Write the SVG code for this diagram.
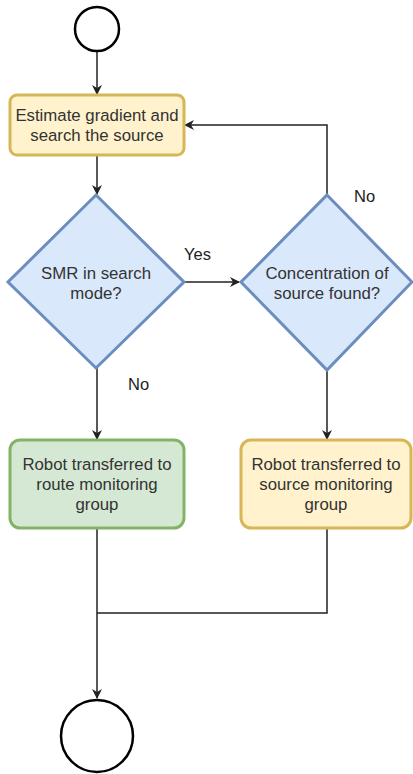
<svg xmlns="http://www.w3.org/2000/svg" width="413" height="774" viewBox="0 0 413 774">
<style>
.t{font-family:"Liberation Sans",Arial,sans-serif;font-size:16.8px;fill:#333;text-anchor:middle}
.l{font-family:"Liberation Sans",Arial,sans-serif;font-size:16.5px;fill:#222}
.c{fill:none;stroke:#222;stroke-width:1.5}
.y{fill:#fff2cc;stroke:#d6b656;stroke-width:3}
.g{fill:#d5e8d4;stroke:#82b366;stroke-width:3}
.d{fill:#dae8fc;stroke:#6c8ebf;stroke-width:3}
.e{fill:#fff;stroke:#000;stroke-width:2.5}
</style>
<defs>
<marker id="a" markerWidth="10" markerHeight="10" refX="9" refY="5" orient="auto" markerUnits="userSpaceOnUse">
<path d="M0,0 L10,5 L0,10 L3,5 Z" fill="#222"/>
</marker>
</defs>
<g id="connectors">
<path class="c" d="M97,52 V94" marker-end="url(#a)"/>
<path class="c" d="M97,155 V194" marker-end="url(#a)"/>
<path class="c" d="M184,282 H239" marker-end="url(#a)"/>
<path class="c" d="M327,195 V125 H185" marker-end="url(#a)"/>
<path class="c" d="M97,368 V439" marker-end="url(#a)"/>
<path class="c" d="M327,370 V439" marker-end="url(#a)"/>
<path class="c" d="M97,528 V698" marker-end="url(#a)"/>
<path class="c" d="M327,528 V613 H97"/>
<text class="l" x="184" y="260">Yes</text>
<text class="l" x="354" y="202">No</text>
<text class="l" x="128" y="390">No</text>
</g>
<g id="start"><circle class="e" cx="97" cy="29" r="22"/></g>
<g id="estimate">
<rect class="y" x="10" y="95" width="174" height="60" rx="7"/>
<text class="t" x="97" y="121">Estimate gradient and</text>
<text class="t" x="97" y="141">search the source</text>
</g>
<g id="smr">
<polygon class="d" points="96,195 184,282 96,368 8,282"/>
<text class="t" x="96" y="279">SMR in search</text>
<text class="t" x="96" y="299">mode?</text>
</g>
<g id="concentration">
<polygon class="d" points="327,195 412,282 327,370 241,282"/>
<text class="t" x="327" y="279">Concentration of</text>
<text class="t" x="327" y="299">source found?</text>
</g>
<g id="route">
<rect class="g" x="10" y="440" width="174" height="88" rx="10"/>
<text class="t" x="97" y="470">Robot transferred to</text>
<text class="t" x="97" y="490">route monitoring</text>
<text class="t" x="97" y="510">group</text>
</g>
<g id="source">
<rect class="y" x="241" y="440" width="170" height="88" rx="10"/>
<text class="t" x="326" y="470">Robot transferred to</text>
<text class="t" x="326" y="490">source monitoring</text>
<text class="t" x="326" y="510">group</text>
</g>
<g id="end"><circle class="e" cx="97" cy="736" r="36" stroke-width="3"/></g>
</svg>
